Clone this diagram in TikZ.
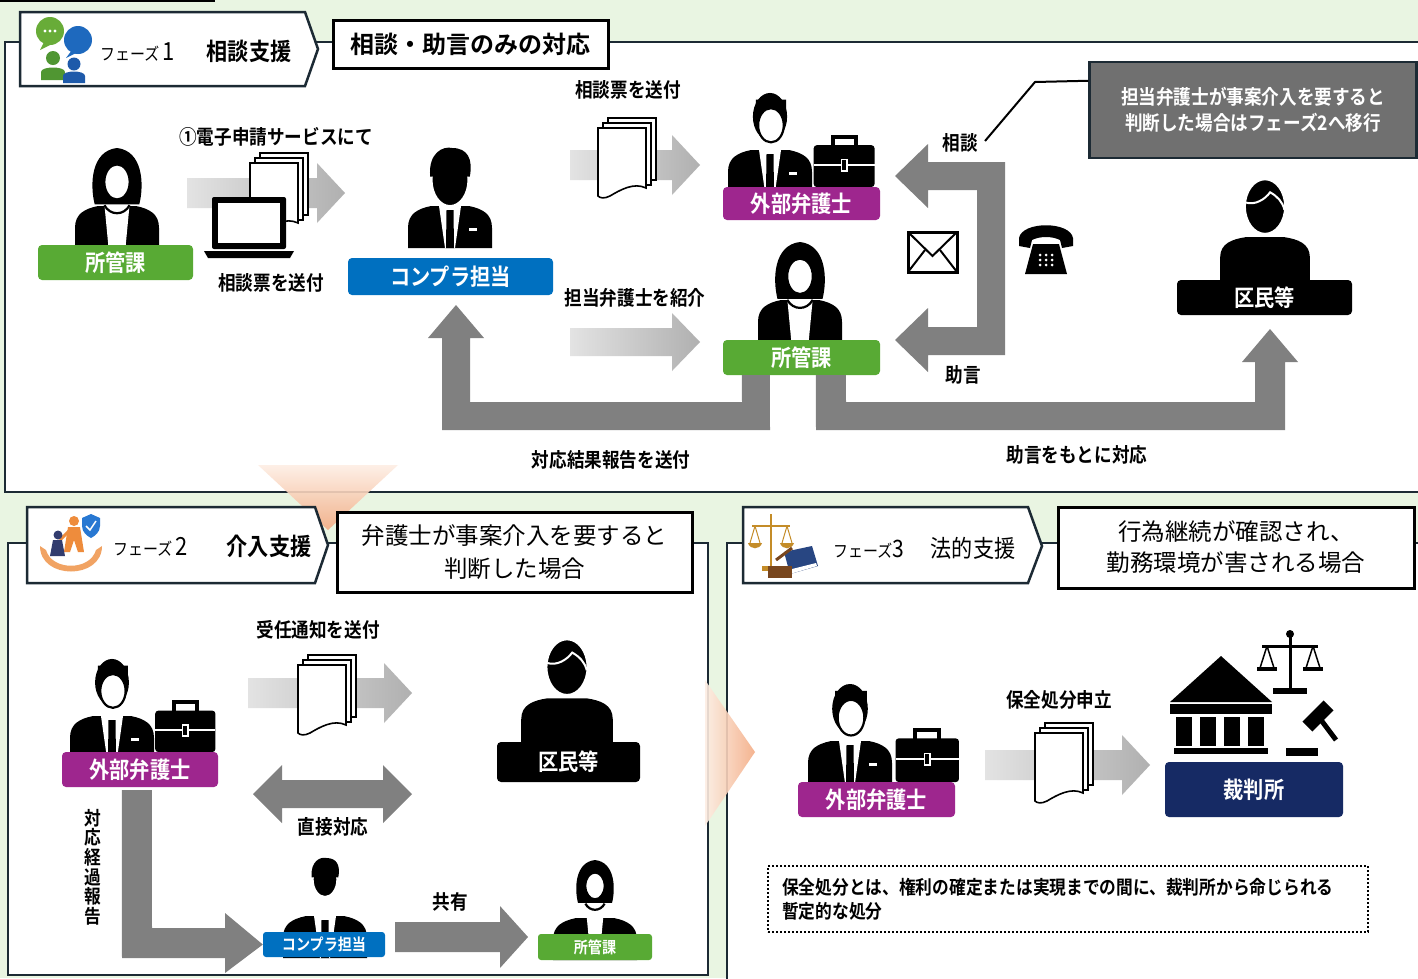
\documentclass[tikz,border=0pt]{standalone}
\usepackage{fontspec}
\setmainfont{Noto Sans CJK JP}[BoldFont={Noto Sans CJK JP Bold}]
\newfontfamily\condfont{Noto Sans CJK JP}[FakeStretch=0.88, BoldFont={Noto Sans CJK JP Bold}]
\usetikzlibrary{calc}

\definecolor{bggreen}{RGB}{233,245,226}
\definecolor{frame}{RGB}{28,42,52}
\definecolor{kangreen}{RGB}{88,170,52}
\definecolor{compblue}{RGB}{0,112,192}
\definecolor{lawpurple}{RGB}{158,38,142}
\definecolor{courtnavy}{RGB}{22,42,100}
\definecolor{arrowgray}{RGB}{128,128,128}
\definecolor{calloutgray}{RGB}{112,112,112}
\definecolor{peachlight}{RGB}{253,238,228}
\definecolor{peachdark}{RGB}{244,172,132}
\definecolor{iconorange}{RGB}{238,140,60}
\definecolor{icongold}{RGB}{196,140,40}
\definecolor{iconbrown}{RGB}{120,70,30}
\definecolor{bubbleblue}{RGB}{30,105,190}
\definecolor{bubblegreen}{RGB}{104,172,56}
\definecolor{persongreen}{RGB}{80,150,50}
\definecolor{personblue}{RGB}{30,90,170}
\definecolor{personnavy}{RGB}{50,60,110}
\definecolor{shieldblue}{RGB}{40,120,210}
\definecolor{bookblue}{RGB}{40,70,130}

\tikzset{
  panel/.style={fill=white, draw=frame, line width=2.5},
  tabshape/.style={fill=white, draw=frame, line width=2.5},
  titlebox/.style={fill=white, draw=black, line width=3, inner sep=0},
  rolebox/.style={rounded corners=4, text=white, inner sep=0,
    font=\condfont\bfseries\fontsize{23}{26}\selectfont},
  smallrole/.style={rounded corners=3, text=white, inner sep=0,
    font=\condfont\bfseries\fontsize{16}{18}\selectfont},
  caption/.style={font=\condfont\bfseries\fontsize{20}{22}\selectfont, inner sep=0},
  blockarrow/.style={fill=arrowgray},
  fadearrow/.style={left color=gray!22, right color=gray!62},
  % body shared by the standing figures
  bust/.pic={
    \fill (-42,100) -- (-42,80) .. controls (-42,66) and (-33,61) .. (-19,58)
      -- (19,58) .. controls (33,61) and (42,66) .. (42,80) -- (42,100) -- cycle;
  },
  suitfront/.pic={
    \fill[white] (-11,58) -- (11,58) -- (5,100) -- (-5,100) -- cycle;
    \fill (-3.5,62) -- (3.5,62) -- (4,100) -- (-4,100) -- cycle;
    \fill[white] (19,80) rectangle (27,83);
  },
  womanfig/.pic={
    \pic {bust};
    \fill[white] (-13,58) -- (13,58) -- (9,100) -- (-9,100) -- cycle;
    \draw[line width=2.2] (-13,59) .. controls (-7,70) and (7,70) .. (13,59);
    \fill (-23,58) .. controls (-28,38) and (-27,3) .. (0,0)
      .. controls (27,3) and (28,38) .. (23,58) -- cycle;
    \filldraw[fill=white, draw=black, line width=2] (0,35) ellipse [x radius=13, y radius=18];
    \fill (-15,32) .. controls (-12,18) and (4,12) .. (15,24) -- (16,10) -- (-15,10) -- cycle;
  },
  manfig/.pic={
    \pic {bust};
    \pic {suitfront};
    \filldraw[draw=white, line width=2.5] (0,29) ellipse [x radius=17, y radius=24];
    \fill (-18,26) .. controls (-20,4) and (-6,-2) .. (2,0)
      .. controls (16,0) and (21,10) .. (18,26) -- cycle;
  },
  lawyerfig/.pic={
    \pic {bust};
    \pic {suitfront};
    \fill (0,26) ellipse [x radius=18, y radius=25];
    \filldraw[fill=white, draw=black, line width=2.2] (1,35) ellipse [x radius=13.5, y radius=18];
    \fill (-15,30) .. controls (-10,16) and (6,12) .. (17,24) -- (17,8) -- (-15,8) -- cycle;
    % briefcase
    \draw[line width=4] (66,58) -- (66,47) -- (90,47) -- (90,58);
    \fill[rounded corners=3] (46,56) rectangle (110,100);
    \draw[white, line width=2] (46,77) -- (110,77);
    \filldraw[draw=white, line width=1.5] (75,71) rectangle (81,83);
  },
  citizenfig/.pic={
    \fill (-44,100) -- (-44,78) .. controls (-44,64) and (-32,60) .. (-19,58)
      -- (19,58) .. controls (32,60) and (44,64) .. (44,78) -- (44,100) -- cycle;
    \filldraw[draw=white, line width=2.5] (0,28) ellipse [x radius=20, y radius=27];
    \draw[white, line width=2] (-19,24) .. controls (-10,27) and (0,21) .. (5,14)
      .. controls (12,18) and (17,23) .. (19,31);
  },
  docsfig/.pic={
    \filldraw[fill=white, line width=1.6] (10,-10) rectangle (58,52);
    \filldraw[fill=white, line width=1.6] (5,-5) rectangle (53,57);
    \filldraw[fill=white, line width=1.6] (0,0) -- (48,0) -- (48,60)
      .. controls (36,54) and (22,62) .. (12,68) .. controls (6,71) and (2,70) .. (0,68) -- cycle;
  },
  laptopfig/.pic={
    \fill[rounded corners=2] (0,0) rectangle (74,52);
    \fill[white] (6,6) rectangle (68,46);
    \fill (-8,54) -- (82,54) -- (78,61) -- (-4,61) -- cycle;
  },
}

\begin{document}
\begin{tikzpicture}[x=1pt,y=-1pt]
\useasboundingbox (0,0) rectangle (1418,978);
\clip (0,0) rectangle (1418,978);

% backdrop and panels
\fill[bggreen] (0,0) rectangle (1418,978);
\draw[line width=2] (0,1) -- (215,1);
\draw[panel] (5,42) rectangle (1430,492);
\draw[panel] (8,543) rectangle (708,975);
\draw[panel] (727,543) rectangle (1430,990);

% ---------------- phase 1 ----------------
\draw[tabshape] (20,12) -- (305,12) -- (318,49) -- (305,86) -- (20,86) -- cycle;
% chat icon
\fill[bubbleblue] (78,40) circle [radius=14];
\fill[bubbleblue] (72,50) -- (66,58) -- (78,52) -- cycle;
\fill[bubblegreen] (50,31) circle [radius=14];
\fill[bubblegreen] (44,42) -- (40,50) -- (52,44) -- cycle;
\foreach \dx in {-5,0,5} \fill[white] (50+\dx,31) circle [radius=1.6];
\fill[persongreen] (53,58) circle [radius=7];
\fill[persongreen] (41,80) -- (41,72) .. controls (41,66) and (65,66) .. (65,72) -- (65,80) -- cycle;
\fill[personblue] (74,64) circle [radius=6.5];
\fill[personblue] (63,83) -- (63,76) .. controls (63,70) and (85,70) .. (85,76) -- (85,83) -- cycle;
\node[inner sep=0, anchor=west] (ph1lab) at (100,52)
  {\condfont\fontsize{17}{18}\selectfont フェーズ\,\fontsize{25}{26}\selectfont 1};
\node[inner sep=0] (ph1name) at (249,51) {\condfont\bfseries\fontsize{24}{26}\selectfont 相談支援};
\node[titlebox, minimum width=275, minimum height=48,
  font=\bfseries\fontsize{24}{26}\selectfont] (ph1title) at (470.5,44) {相談・助言のみの対応};

% arrows of phase 1
\path[fadearrow] (187,178) -- (317,178) -- (317,163) -- (345,193) -- (317,223) -- (317,208) -- (187,208) -- cycle;
\path[fadearrow] (570,150) -- (672,150) -- (672,135) -- (700,165) -- (672,195) -- (672,180) -- (570,180) -- cycle;
\path[fadearrow] (570,328) -- (672,328) -- (672,313) -- (700,342) -- (672,371) -- (672,356) -- (570,356) -- cycle;

\pic at (250,163) {docsfig};
\pic at (212,197) {laptopfig};
\pic at (598,128) {docsfig};

% consultation bracket with two heads
\path[blockarrow] (895,176) -- (928,144) -- (928,162) -- (1005,162) -- (1005,355)
  -- (928,355) -- (928,372) -- (895,340) -- (928,308) -- (928,327) -- (977,327)
  -- (977,190) -- (928,190) -- (928,208) -- cycle;

% figures of phase 1
\pic[scale=0.97] at (117,148) {womanfig};
\pic[scale=1.1] at (450,148) {manfig};
\pic[scale=0.95] at (770,92) {lawyerfig};
\pic[scale=0.98] at (800,242) {womanfig};
\pic[scale=1.02] at (1265,178) {citizenfig};

\node[rolebox, fill=kangreen, minimum width=155, minimum height=35] (kan1) at (115.5,262.5) {所管課};
\node[rolebox, fill=compblue, minimum width=205, minimum height=37] (comp1) at (450.5,276.5) {コンプラ担当};
\node[rolebox, fill=lawpurple, minimum width=157, minimum height=33] (law1) at (801.5,203.5) {外部弁護士};
\node[rolebox, fill=kangreen, minimum width=157, minimum height=35] (kan2) at (801.5,357.5) {所管課};
\node[rolebox, fill=black, minimum width=175, minimum height=35] (cit1) at (1264.5,297.5) {区民等};

% return arrows below the section office
\path[blockarrow] ($(kan2.south west)+(19,0)$) -- (742,402) -- (470,402) -- (470,338) -- (484,338)
  -- (456,305) -- (428,338) -- (442,338) -- (442,430) -- (770,430) -- ($(kan2.south west)+(47,0)$) -- cycle;
\path[blockarrow] ($(kan2.south west)+(93,0)$) -- (816,430) -- (1285,430) -- (1285,362) -- (1298,362)
  -- (1270,329) -- (1242,362) -- (1255,362) -- (1255,402) -- (846,402) -- ($(kan2.south west)+(123,0)$) -- cycle;

% mail and telephone
\draw[line width=3] (908,232) rectangle (957,272);
\draw[line width=2] (908,232) -- (932.5,256) -- (957,232);
\draw[line width=2] (908,272) -- (925,250) (957,272) -- (940,250);
\fill (1019,238) .. controls (1022,221) and (1070,221) .. (1073,238) -- (1073,246) -- (1062,248)
  -- (1060,240) .. controls (1052,236) and (1040,236) .. (1032,240) -- (1030,248) -- (1019,246) -- cycle;
\fill (1033,244) -- (1059,244) -- (1067,274) -- (1025,274) -- cycle;
\foreach \i in {-1,0,1} \foreach \j in {-1,0,1} \fill[white] (1046+6*\i,260+5*\j) circle [radius=1.5];

% captions of phase 1
\node[caption] (c1) at (276,137) {①電子申請サービスにて};
\node[caption] (c2) at (271,283) {相談票を送付};
\node[caption] (c3) at (628,90) {相談票を送付};
\node[caption] (c4) at (635,298) {担当弁護士を紹介};
\node[caption] (c5) at (960,143) {相談};
\node[caption] (c6) at (963,375) {助言};
\node[caption] (c7) at (611,460) {対応結果報告を送付};
\node[caption] (c8) at (1077,455) {助言をもとに対応};

% note on moving to phase 2
\node[fill=calloutgray, draw=frame, line width=2.5, minimum width=327, minimum height=96,
  text=white, align=center, font=\condfont\bfseries\fontsize{20}{26}\selectfont] (note)
  at (1253,110) {担当弁護士が事案介入を要すると\\判断した場合はフェーズ2へ移行};
\coordinate (notefoot) at (985,141);
\draw[line width=2] (notefoot) -- (1035,82) -- ($(note.north west)+(0,20)$);

% phase transitions
\shade[top color=peachlight, bottom color=peachdark, opacity=0.9] (258,465) -- (398,465) -- (328,530) -- cycle;
\shade[left color=peachlight, right color=peachdark, opacity=0.9] (705,680) -- (755,752) -- (705,826) -- cycle;

% ---------------- phase 2 ----------------
\draw[tabshape] (27,507) -- (315,507) -- (328,545) -- (315,583) -- (27,583) -- cycle;
% helping hands icon
\fill[iconorange!80] (40,546) .. controls (40,580) and (102,580) .. (102,546) -- (96,550)
  .. controls (90,571) and (52,571) .. (46,550) -- cycle;
\fill[iconorange] (74,521) circle [radius=5];
\fill[iconorange] (68,527) -- (80,527) -- (84,552) -- (78,552) -- (74,540) -- (70,552) -- (64,552) -- cycle;
\draw[iconorange, line width=3] (70,530) -- (60,540);
\fill[personnavy] (58,535) circle [radius=4.5];
\fill[personnavy] (53,540) -- (62,540) -- (65,556) -- (50,556) -- cycle;
\fill[shieldblue] (82,518) -- (91,514) -- (100,518) -- (100,526) .. controls (100,532) and (95,536) .. (91,538)
  .. controls (87,536) and (82,532) .. (82,526) -- cycle;
\draw[white, line width=1.5] (86,526) -- (90,530) -- (96,521);
\node[inner sep=0, anchor=west] (ph2lab) at (113,547)
  {\condfont\fontsize{17}{18}\selectfont フェーズ\,\fontsize{25}{26}\selectfont 2};
\node[inner sep=0] (ph2name) at (269,546) {\condfont\bfseries\fontsize{24}{26}\selectfont 介入支援};
\node[titlebox, minimum width=355, minimum height=80, align=center,
  font=\fontsize{23.5}{33}\selectfont] (ph2title) at (514.5,552) {弁護士が事案介入を要すると\\判断した場合};

\path[fadearrow] (248,678) -- (384,678) -- (384,663) -- (412,693) -- (384,723) -- (384,708) -- (248,708) -- cycle;
\pic at (298,665) {docsfig};
\path[blockarrow] (253,794) -- (282,765) -- (282,780) -- (383,780) -- (383,765) -- (412,794)
  -- (383,823) -- (383,808) -- (282,808) -- (282,823) -- cycle;
\path[blockarrow] (395,922) -- (500,922) -- (500,906) -- (528,937) -- (500,968) -- (500,952) -- (395,952) -- cycle;

\pic[scale=0.94] at (112,658) {lawyerfig};
\pic[scale=1.04] at (567,638) {citizenfig};
\pic[scale=0.74] at (325,858) {manfig};
\pic[scale=0.74] at (595,860) {womanfig};

\node[rolebox, fill=lawpurple, minimum width=156, minimum height=35] (law2) at (140,769.5) {外部弁護士};
\node[rolebox, fill=black, minimum width=143, minimum height=40] (cit2) at (568.5,762) {区民等};
\node[smallrole, fill=compblue, minimum width=122, minimum height=25] (comp2) at (324,944.5) {コンプラ担当};
\node[smallrole, fill=kangreen, minimum width=114, minimum height=26] (kan3) at (595,947) {所管課};

\path[blockarrow] ($(law2.south west)+(60,3)$) -- (122,958) -- (225,958) -- (225,973) -- (comp2.west)
  -- (225,913) -- (225,928) -- (152,928) -- ($(law2.south west)+(90,3)$) -- cycle;

\node[caption] (c9) at (318,630) {受任通知を送付};
\node[caption] (c10) at (333,827) {直接対応};
\node[caption] (c11) at (450,902) {共有};
\node[caption, align=center, font=\condfont\bfseries\fontsize{19}{19.6}\selectfont] (c12) at (93,867)
  {対\\応\\経\\過\\報\\告};

% ---------------- phase 3 ----------------
\draw[tabshape] (743,507) -- (1028,507) -- (1042,546) -- (1028,583) -- (743,583) -- cycle;
% scales, book and gavel icon
\draw[icongold, line width=2.5] (771,514) -- (771,568);
\draw[icongold, line width=2] (752,526) -- (790,526);
\draw[icongold, line width=1] (755,526) -- (750,543) (755,526) -- (760,543) (787,526) -- (782,543) (787,526) -- (792,543);
\fill[icongold] (748,543) .. controls (750,550) and (760,550) .. (762,543) -- cycle;
\fill[icongold] (780,543) .. controls (782,550) and (792,550) .. (794,543) -- cycle;
\fill[icongold] (762,566) rectangle (782,571);
\fill[bookblue] (784,552) -- (812,546) -- (818,566) -- (790,574) -- cycle;
\fill[white] (788,570) -- (816,563) -- (817,566) -- (790,574) -- cycle;
\fill[iconbrown] (768,566) rectangle (792,578);
\draw[iconbrown, line width=3] (776,560) -- (792,548);
\node[inner sep=0, anchor=west] (ph3lab) at (833,549)
  {\condfont\fontsize{17}{18}\selectfont フェーズ\fontsize{24}{26}\selectfont 3};
\node[inner sep=0] (ph3name) at (973,548) {\condfont\fontsize{24}{26}\selectfont 法的支援};
\node[titlebox, minimum width=356, minimum height=81, align=center,
  font=\fontsize{23.5}{31}\selectfont] (ph3title) at (1236,547.5) {行為継続が確認され、\\勤務環境が害される場合};

\path[fadearrow] (985,750) -- (1122,750) -- (1122,735) -- (1150,765) -- (1122,795) -- (1122,780) -- (985,780) -- cycle;
\pic at (1035,733) {docsfig};
\pic[scale=0.99] at (850,683) {lawyerfig};

% court house
\fill (1170,702) -- (1221,656) -- (1272,702) -- cycle;
\fill (1170,704) rectangle (1272,714);
\foreach \cx in {1184,1208,1232,1256} \fill (\cx-8,717) rectangle (\cx+8,746);
\fill (1174,748) rectangle (1268,754);
% scales of justice
\draw[line width=3] (1290,632) -- (1290,690);
\fill (1290,634) circle [radius=4];
\draw[line width=3] (1262,646) -- (1318,646);
\draw[line width=1.5] (1267,646) -- (1260,668) (1267,646) -- (1274,668);
\draw[line width=1.5] (1313,646) -- (1306,668) (1313,646) -- (1320,668);
\fill (1257,667) rectangle (1277,671);
\fill (1303,667) rectangle (1323,671);
\fill (1273,688) rectangle (1307,694);
% gavel
\fill[rotate around={45:(1318,716)}] (1303,709) rectangle (1333,723);
\draw[line width=5] (1318,716) -- (1336,740);
\fill (1286,748) rectangle (1318,756);

\node[rolebox, fill=lawpurple, minimum width=157, minimum height=35] (law3) at (876.5,799.5) {外部弁護士};
\node[rolebox, fill=courtnavy, minimum width=178, minimum height=55] (court) at (1254,789.5) {裁判所};
\node[caption] (c13) at (1059,700) {保全処分申立};

\node[draw, dotted, line width=2, minimum width=600, minimum height=66, inner sep=0] (defbox) at (1068,899) {};
\node[anchor=west, align=left, inner sep=0, font=\condfont\bfseries\fontsize{19}{24}\selectfont] (deftext)
  at ($(defbox.west)+(15,0)$) {保全処分とは、権利の確定または実現までの間に、裁判所から命じられる\\暫定的な処分};

\end{tikzpicture}
\end{document}
